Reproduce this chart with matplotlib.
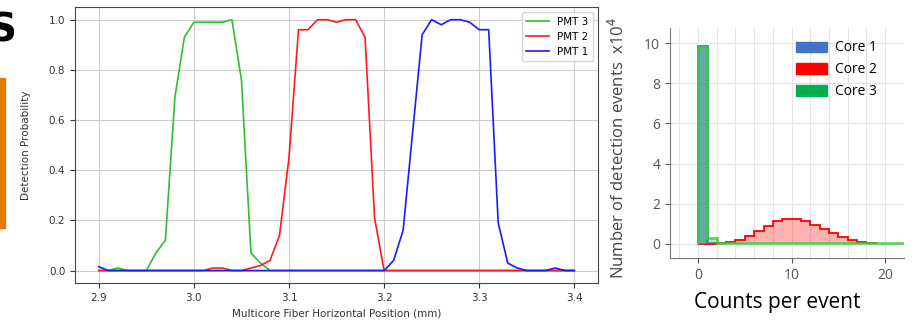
import numpy as np
import matplotlib
matplotlib.use("Agg")
import matplotlib.pyplot as plt
from matplotlib.patches import Patch, Rectangle

## left panel: detection probability vs fiber position
pos = [2.90, 2.91, 2.92, 2.93, 2.94, 2.95, 2.96, 2.97, 2.98, 2.99,
       3.00, 3.01, 3.02, 3.03, 3.04, 3.05, 3.06, 3.07, 3.08, 3.09,
       3.10, 3.11, 3.12, 3.13, 3.14, 3.15, 3.16, 3.17, 3.18, 3.19,
       3.20, 3.21, 3.22, 3.23, 3.24, 3.25, 3.26, 3.27, 3.28, 3.29,
       3.30, 3.31, 3.32, 3.33, 3.34, 3.35, 3.36, 3.37, 3.38, 3.39, 3.40]
pmt3 = [0.0, 0.0, 0.01, 0.0, 0.0, 0.0, 0.07, 0.12, 0.69, 0.93,
        0.99, 0.99, 0.99, 0.99, 1.0, 0.76, 0.07, 0.03, 0.0, 0.0,
        0.0, 0.0, 0.0, 0.0, 0.0, 0.0, 0.0, 0.0, 0.0, 0.0,
        0.0, 0.0, 0.0, 0.0, 0.0, 0.0, 0.0, 0.0, 0.0, 0.0,
        0.0, 0.0, 0.0, 0.0, 0.0, 0.0, 0.0, 0.0, 0.0, 0.0, 0.0]
pmt2 = [0.0, 0.0, 0.0, 0.0, 0.0, 0.0, 0.0, 0.0, 0.0, 0.0,
        0.0, 0.0, 0.01, 0.01, 0.0, 0.0, 0.01, 0.02, 0.04, 0.14,
        0.45, 0.96, 0.96, 1.0, 1.0, 0.99, 1.0, 1.0, 0.93, 0.21,
        0.0, 0.0, 0.0, 0.0, 0.0, 0.0, 0.0, 0.0, 0.0, 0.0,
        0.0, 0.0, 0.0, 0.0, 0.0, 0.0, 0.0, 0.0, 0.0, 0.0, 0.0]
pmt1 = [0.015, 0.0, 0.0, 0.0, 0.0, 0.0, 0.0, 0.0, 0.0, 0.0,
        0.0, 0.0, 0.0, 0.0, 0.0, 0.0, 0.0, 0.0, 0.0, 0.0,
        0.0, 0.0, 0.0, 0.0, 0.0, 0.0, 0.0, 0.0, 0.0, 0.0,
        0.0, 0.04, 0.16, 0.55, 0.94, 1.0, 0.98, 1.0, 1.0, 0.99,
        0.96, 0.96, 0.19, 0.03, 0.01, 0.0, 0.0, 0.0, 0.01, 0.0, 0.0]

## right panel: histogram of counts per event (x10^4)
core1_edges = [0, 1, 2]
core1_vals = [9.85, 0.05]
core2_edges = list(range(0, 20))
core2_vals = [0.0, 0.02, 0.03, 0.08, 0.19, 0.38, 0.63, 0.9, 1.13, 1.25,
              1.25, 1.14, 0.95, 0.73, 0.52, 0.35, 0.22, 0.12, 0.05]
core3_edges = [0, 1, 2, 22]
core3_vals = [9.8, 0.3, 0.05]

fig = plt.figure(figsize=(9.15, 3.25), dpi=100)

# bits of the surrounding slide
fig.text(-0.013, 0.871, "S", fontsize=28, fontweight="bold", color="black",
         ha="left", va="baseline")
fig.patches.append(Rectangle((0, 0.30), 0.006, 0.46, transform=fig.transFigure,
                             color="#e07a00", zorder=0))

ax = fig.add_axes([0.082, 0.129, 0.5716, 0.849])
ax.plot(pos, pmt3, color="#2fbf2f", lw=1.2, label="PMT 3")
ax.plot(pos, pmt2, color="#ff1a1a", lw=1.2, label="PMT 2")
ax.plot(pos, pmt1, color="#1a1aff", lw=1.2, label="PMT 1")
ax.set_xticks([2.9, 3.0, 3.1, 3.2, 3.3, 3.4])
ax.set_yticks([0.0, 0.2, 0.4, 0.6, 0.8, 1.0])
ax.grid(True, color="#cccccc", lw=0.8)
ax.tick_params(labelsize=7.5, colors="#333333")
for s in ax.spines.values():
    s.set_color("#444444")
ax.set_xlabel("Multicore Fiber Horizontal Position (mm)", fontsize=7.5, color="#333333")
ax.set_ylabel("Detection Probability", fontsize=7.5, color="#333333")
ax.yaxis.set_label_coords(-0.085, 0.5)
ax.legend(loc="upper right", fontsize=7.5, handlelength=2.2)

ax2 = fig.add_axes([0.7322, 0.2062, 0.2557, 0.7077])
ax2.set_axisbelow(True)
ax2.stairs(core1_vals, core1_edges, fill=True, color="#4472c4", alpha=0.7)
ax2.stairs(core1_vals, core1_edges, color="#4472c4", lw=2)
ax2.stairs(core2_vals, core2_edges, fill=True, color="#ff0000", alpha=0.3)
ax2.stairs(core2_vals, core2_edges, color="#ff0000", lw=1.3)
ax2.stairs(core3_vals, core3_edges, fill=True, color="#33cc55", alpha=0.35)
ax2.stairs(core3_vals, core3_edges, color="#44cc44", lw=2, alpha=0.8)
ax2.set_xlim(-3, 22)
ax2.set_ylim(-0.7, 10.75)
ax2.set_xticks([0, 10, 20])
ax2.set_xticks(np.arange(-2, 23, 2), minor=True)
ax2.set_yticks([0, 2, 4, 6, 8, 10])
ax2.grid(True, which="both", color="#e4e4e4", lw=0.8)
ax2.tick_params(which="minor", length=0)
ax2.tick_params(labelsize=10, colors="#555555")
for lbl in ax2.get_xticklabels() + ax2.get_yticklabels():
    lbl.set_family("Open Sans")
ax2.spines["top"].set_visible(False)
ax2.spines["right"].set_visible(False)
ax2.spines["left"].set_color("#777777")
ax2.spines["bottom"].set_color("#777777")
ax2.set_ylabel("Number of detection events  x10$^4$", fontsize=12, color="#444444",
               family="Open Sans")
ax2.yaxis.set_label_coords(-0.18, 0.478)
handles = [Patch(color="#4472c4", label="Core 1"),
           Patch(color="#ff0000", label="Core 2"),
           Patch(color="#00b050", label="Core 3")]
ax2.legend(handles=handles, loc="upper right", bbox_to_anchor=(0.91, 0.97),
           frameon=False, prop={"family": "Open Sans", "size": 10},
           handlelength=2.2, handleheight=0.75, labelspacing=0.5,
           handletextpad=0.6, borderaxespad=0)

fig.text(0.849, 0.07, "Counts per event", fontsize=15, ha="center", va="center",
         family="Open Sans", color="black")

fig.savefig("out.png", dpi=100)
